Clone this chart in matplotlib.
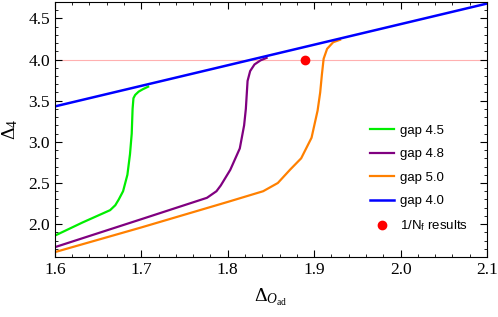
import matplotlib
matplotlib.use('Agg')
import matplotlib.pyplot as plt
from matplotlib.ticker import MultipleLocator

plt.rcParams['font.family'] = 'Liberation Serif'
plt.rcParams['mathtext.fontset'] = 'custom'
plt.rcParams['mathtext.rm'] = 'Liberation Serif'
plt.rcParams['mathtext.it'] = 'Liberation Serif:italic'
plt.rcParams['mathtext.sf'] = 'Liberation Sans'

# curves
gap45_x = [1.600, 1.632, 1.664, 1.670, 1.674, 1.679, 1.684, 1.687, 1.689, 1.690, 1.691, 1.693, 1.697, 1.702, 1.708]
gap45_y = [1.86, 2.02, 2.17, 2.23, 2.30, 2.40, 2.60, 2.85, 3.10, 3.40, 3.53, 3.57, 3.61, 3.64, 3.67]

gap48_x = [1.600, 1.700, 1.776, 1.787, 1.792, 1.803, 1.814, 1.819, 1.821, 1.823, 1.826, 1.831, 1.838, 1.845]
gap48_y = [1.72, 2.06, 2.32, 2.40, 2.47, 2.66, 2.92, 3.20, 3.40, 3.74, 3.86, 3.94, 3.99, 4.02]

gap50_x = [1.600, 1.700, 1.800, 1.841, 1.858, 1.872, 1.885, 1.897, 1.904, 1.907, 1.909, 1.911, 1.915, 1.922, 1.930]
gap50_y = [1.66, 1.96, 2.27, 2.40, 2.50, 2.66, 2.80, 3.05, 3.38, 3.60, 3.82, 4.01, 4.13, 4.21, 4.24]

gap40_x = [1.6, 2.1]
gap40_y = [3.43, 4.68]

nf_x = [1.89]
nf_y = [4.0]
ref_level = 4.0

fig = plt.figure(figsize=(4.98, 3.17), dpi=100)
ax = fig.add_axes([0.110, 0.189, 0.868, 0.805])

ax.axhline(ref_level, color='#ffb0b0', lw=0.8, zorder=1)
ax.plot(gap45_x, gap45_y, color='#00ee00', lw=1.6, label='gap 4.5')
ax.plot(gap48_x, gap48_y, color='#800080', lw=1.6, label='gap 4.8')
ax.plot(gap50_x, gap50_y, color='#ff8000', lw=1.6, label='gap 5.0')
ax.plot(gap40_x, gap40_y, color='#0000ff', lw=1.8, label='gap 4.0')
ax.plot(nf_x, nf_y, 'o', color='#ff0000', ms=6, label='1/N$_\\mathsf{f}$ results', zorder=5)

ax.set_xlim(1.6, 2.1)
ax.set_ylim(1.6, 4.7)
ax.xaxis.set_major_locator(MultipleLocator(0.1))
ax.xaxis.set_minor_locator(MultipleLocator(0.02))
ax.yaxis.set_major_locator(MultipleLocator(0.5))
ax.yaxis.set_minor_locator(MultipleLocator(0.1))
ax.tick_params(which='both', direction='in', top=True, right=True, labelsize=12.5)
ax.tick_params(which='major', length=5)
ax.tick_params(which='minor', length=2.5)
ax.xaxis.set_major_formatter(plt.FormatStrFormatter('%.1f'))
ax.yaxis.set_major_formatter(plt.FormatStrFormatter('%.1f'))

ax.set_xlabel(r'$\Delta_{O_{\rm ad}}$', fontsize=14, labelpad=6)
ax.set_ylabel(r'$\Delta_4$', fontsize=14, labelpad=6)

ax.legend(loc='center left', bbox_to_anchor=(0.718, 0.306), frameon=False,
          prop={'family': 'Liberation Sans', 'size': 9.5}, handlelength=1.75,
          handletextpad=0.5, labelspacing=0.85, borderaxespad=0)

fig.savefig('out.png', dpi=100)
